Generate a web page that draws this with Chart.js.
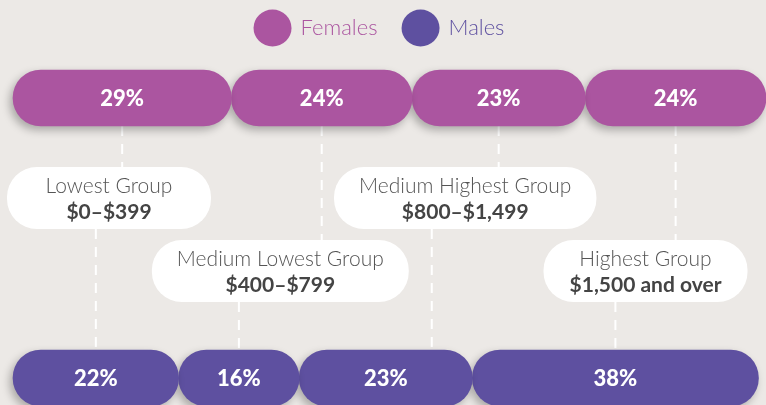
<!DOCTYPE html>
<html>
<head>
<meta charset="utf-8">
<script src="https://cdn.jsdelivr.net/npm/chart.js@4/dist/chart.umd.min.js"></script>
<style>
  html, body { margin: 0; padding: 0; background: #ece9e6; }
  #wrap { width: 766px; height: 405px; position: relative; }
</style>
</head>
<body>
<div id="wrap"><canvas id="chart"></canvas></div>
<script>
// income groups (one stacked segment each)
const groups = ['Lowest Group', 'Medium Lowest Group', 'Medium Highest Group', 'Highest Group'];
const ranges = ['$0–$399', '$400–$799', '$800–$1,499', '$1,500 and over'];
const sexes = ['Females', 'Males'];

// share of each sex in each group, %
const females = [29, 24, 23, 24];
const males = [22, 16, 23, 38];

const FEMALE = '#ab55a0';
const MALE = '#5e50a0';
const FONT = 'Lato, "Open Sans", sans-serif';

// object form so every segment of the stack gets rounded ends
const pill = { topLeft: 28, topRight: 28, bottomLeft: 28, bottomRight: 28 };

const datasets = groups.map((g, i) => ({
    label: g,
    data: [females[i], males[i]],
    backgroundColor: [FEMALE, MALE],
    borderRadius: pill,
    borderSkipped: false,
    barThickness: 56,
    clip: false
}));

// soft drop shadow under each pill
const shadowPlugin = {
    id: 'shadow',
    beforeDatasetDraw(chart) {
        const ctx = chart.ctx;
        ctx.save();
        ctx.shadowColor = 'rgba(0,0,0,0.28)';
        ctx.shadowBlur = 8;
        ctx.shadowOffsetX = -3;
        ctx.shadowOffsetY = 4;
    },
    afterDatasetDraw(chart) {
        chart.ctx.restore();
    }
};

function centerOf(bar) {
    return (bar.x + bar.base) / 2;
}

// where each group box and its two connectors go, worked out from the bars
function boxLayout(chart) {
    const ctx = chart.ctx;
    const f0 = chart.getDatasetMeta(0).data[0];
    const m0 = chart.getDatasetMeta(0).data[1];
    const fBottom = f0.y + f0.height / 2;
    const mTop = m0.y - m0.height / 2;
    const out = [];
    groups.forEach((g, i) => {
        const meta = chart.getDatasetMeta(i);
        const topX = centerOf(meta.data[0]);
        let botX = centerOf(meta.data[1]);
        const row = i % 2;
        // a connector from the upper row must not run behind the lower box on its left
        if (row === 0 && i > 0) {
            const prev = out[i - 1];
            botX = Math.max(botX, prev.cx + prev.w / 2 + 23);
        }
        ctx.save();
        ctx.font = `300 21px ${FONT}`;
        const w1 = ctx.measureText(g).width;
        ctx.font = `bold 21px ${FONT}`;
        const w2 = ctx.measureText(ranges[i]).width;
        ctx.restore();
        const w = Math.max(204, Math.max(w1, w2) + 50);
        const top = fBottom + 41 + row * 73;
        out.push({ topX, botX, cx: (topX + botX) / 2, w, top, fBottom, mTop });
    });
    return out;
}

// dashed connectors + white group boxes
const groupBoxes = {
    id: 'groupBoxes',
    beforeDatasetsDraw(chart) {
        const ctx = chart.ctx;
        ctx.save();
        ctx.strokeStyle = '#ffffff';
        ctx.lineWidth = 2;
        ctx.setLineDash([10, 8]);
        boxLayout(chart).forEach(b => {
            ctx.beginPath();
            ctx.moveTo(b.topX, b.fBottom);
            ctx.lineTo(b.topX, b.top);
            ctx.moveTo(b.botX, b.top + 62);
            ctx.lineTo(b.botX, b.mTop);
            ctx.stroke();
        });
        ctx.restore();
    },
    afterDatasetsDraw(chart) {
        const ctx = chart.ctx;
        ctx.save();
        ctx.textAlign = 'center';
        ctx.textBaseline = 'middle';

        // percentages inside the pills
        ctx.fillStyle = '#ffffff';
        ctx.font = `900 22px ${FONT}`;
        groups.forEach((g, i) => {
            chart.getDatasetMeta(i).data.forEach((bar, j) => {
                const v = j === 0 ? females[i] : males[i];
                ctx.fillText(v + '%', centerOf(bar), bar.y + 1);
            });
        });

        boxLayout(chart).forEach((b, i) => {
            ctx.fillStyle = '#ffffff';
            ctx.beginPath();
            ctx.roundRect(b.cx - b.w / 2, b.top, b.w, 62, 30);
            ctx.fill();
            ctx.fillStyle = '#555555';
            ctx.font = `300 21px ${FONT}`;
            ctx.fillText(groups[i], b.cx, b.top + 19);
            ctx.fillStyle = '#444444';
            ctx.font = `bold 21px ${FONT}`;
            ctx.fillText(ranges[i], b.cx, b.top + 45);
        });
        ctx.restore();
    },
    afterDraw(chart) {
        // legend: coloured dot + coloured label, centred on top
        const ctx = chart.ctx;
        const colors = [FEMALE, MALE];
        const r = 19, gap = 9, spacing = 24, y = 28;
        ctx.save();
        ctx.font = `300 22px ${FONT}`;
        const widths = sexes.map(s => ctx.measureText(s).width);
        const total = widths.reduce((a, w) => a + 2 * r + gap + w, 0) + spacing * (sexes.length - 1);
        let x = chart.width / 2 - total / 2 - 4;
        ctx.textBaseline = 'middle';
        ctx.textAlign = 'left';
        sexes.forEach((s, i) => {
            ctx.fillStyle = colors[i];
            ctx.beginPath();
            ctx.ellipse(x + r, y, r, r - 0.5, 0, 0, Math.PI * 2);
            ctx.fill();
            ctx.fillText(s, x + 2 * r + gap, y);
            x += 2 * r + gap + widths[i] + spacing;
        });
        ctx.restore();
    }
};

new Chart(document.getElementById('chart'), {
    type: 'bar',
    data: { labels: sexes, datasets },
    options: {
        indexAxis: 'y',
        responsive: true,
        maintainAspectRatio: false,
        animation: false,
        layout: { padding: { top: 98, bottom: 27, left: 13, right: 0 } },
        scales: {
            x: { stacked: true, min: 0, max: 100, display: false },
            y: { stacked: true, offset: false, display: false }
        },
        plugins: {
            legend: { display: false },
            tooltip: { enabled: false }
        }
    },
    plugins: [shadowPlugin, groupBoxes]
});
</script>
</body>
</html>
